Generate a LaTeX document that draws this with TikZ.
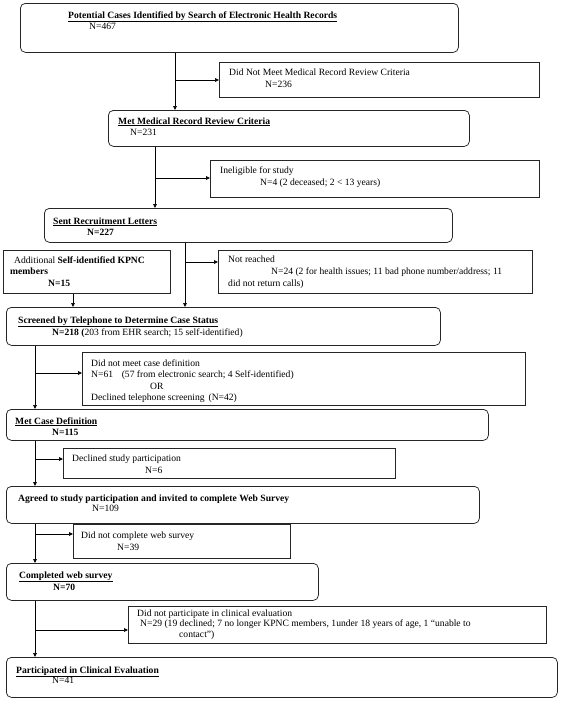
\documentclass[tikz,border=0pt]{standalone}
\usepackage{fontspec}
\setmainfont{Liberation Serif}
\usetikzlibrary{arrows.meta}
\begin{document}
\begin{tikzpicture}[x=1pt,y=-1pt,
  font=\fontsize{9.6}{11.5}\selectfont,
  rbox/.style={draw=black!85, rounded corners=5pt, line width=0.75pt, anchor=north west, inner sep=0pt},
  sbox/.style={draw=black!85, line width=0.75pt, anchor=north west, inner sep=0pt},
  txt/.style={anchor=base west, inner sep=0pt},
  arr/.style={-{Triangle[length=4pt,width=3.6pt]}, line width=0.65pt}]
\useasboundingbox (0,0) rectangle (563,718);
\fill[white] (0,0) rectangle (563,718);

% main boxes
\node[rbox, minimum width=438pt, minimum height=49pt] (b1) at (20,3) {};
\node[rbox, minimum width=361pt, minimum height=36pt] (b2) at (108,110) {};
\node[rbox, minimum width=408pt, minimum height=34pt] (b3) at (44,208) {};
\node[rbox, minimum width=434pt, minimum height=38pt] (b4) at (6,307) {};
\node[rbox, minimum width=482pt, minimum height=31pt] (b5) at (6,409) {};
\node[rbox, minimum width=473pt, minimum height=37pt] (b6) at (6,486) {};
\node[rbox, minimum width=312pt, minimum height=37pt] (b7) at (6,563) {};
\node[rbox, minimum width=551pt, minimum height=40pt] (b8) at (6,657) {};

% side boxes
\node[sbox, minimum width=320pt, minimum height=35pt] (s1) at (219,62) {};
\node[sbox, minimum width=329pt, minimum height=37pt] (s2) at (210,160) {};
\node[sbox, minimum width=314pt, minimum height=43pt] (s3) at (218,250) {};
\node[sbox, minimum width=167pt, minimum height=43pt] (a1) at (3,250) {};
\node[sbox, minimum width=443pt, minimum height=53pt] (s4) at (82,352) {};
\node[sbox, minimum width=332pt, minimum height=30pt] (s5) at (63,448) {};
\node[sbox, minimum width=217pt, minimum height=34pt] (s6) at (73,524) {};
\node[sbox, minimum width=418pt, minimum height=37pt] (s7) at (128,606) {};

% texts
\node[txt] (t1a) at (68,18) {\underline{\textbf{Potential Cases Identified by Search of Electronic Health Records}}};
\node[txt] (t1b) at (89,29) {N=467};
\node[txt] (u1a) at (229,75) {Did Not Meet Medical Record Review Criteria};
\node[txt] (u1b) at (265,87) {N=236};
\node[txt] (t2a) at (118,124) {\underline{\textbf{Met Medical Record Review Criteria}}};
\node[txt] (t2b) at (130,135) {N=231};
\node[txt] (u2a) at (220,173) {Ineligible for study};
\node[txt] (u2b) at (260,185) {N=4 (2 deceased; 2 < 13 years)};
\node[txt] (t3a) at (53,224) {\underline{\textbf{Sent Recruitment Letters}}};
\node[txt] (t3b) at (87,235) {\textbf{N=227}};
\node[txt] (u3a) at (228,262) {Not reached};
\node[txt] (u3b) at (271,274) {N=24 (2 for health issues; 11 bad phone number/address; 11};
\node[txt] (u3c) at (228,286) {did not return calls)};
\node[txt] (a1a) at (14,263) {Additional \textbf{Self-identified KPNC}};
\node[txt] (a1b) at (10,274) {\textbf{members}};
\node[txt] (a1c) at (48,286) {\textbf{N=15}};
\node[txt] (t4a) at (18,323) {\underline{\textbf{Screened by Telephone to Determine Case Status}}};
\node[txt] (t4b) at (52,335) {\textbf{N=218 (}203 from EHR search; 15 self-identified)};
\node[txt] (u4a) at (91,366) {Did not meet case definition};
\node[txt] (u4b) at (91,377) {N=61\hspace{0.9em}(57 from electronic search; 4 Self-identified)};
\node[txt] (u4c) at (150,389) {OR};
\node[txt] (u4d) at (91,400) {Declined telephone screening\hspace{0.4em}(N=42)};
\node[txt] (t5a) at (15,424) {\underline{\textbf{Met Case Definition}}};
\node[txt] (t5b) at (52,435) {\textbf{N=115}};
\node[txt] (u5a) at (72,461) {Declined study participation};
\node[txt] (u5b) at (145,473) {N=6};
\node[txt] (t6a) at (18,501) {\textbf{Agreed to study participation and invited to complete Web Survey}};
\node[txt] (t6b) at (92,511) {N=109};
\node[txt] (u6a) at (81,538) {Did not complete web survey};
\node[txt] (u6b) at (117,550) {N=39};
\node[txt] (t7a) at (19,578) {\underline{\textbf{Completed web survey}}};
\node[txt] (t7b) at (53,590) {\textbf{N=70}};
\node[txt] (u7a) at (137,616) {Did not participate in clinical evaluation};
\node[txt] (u7b) at (140,626) {N=29 (19 declined; 7 no longer KPNC members, 1under 18 years of age, 1 “unable to};
\node[txt] (u7c) at (179,637) {contact”)};
\node[txt] (t8a) at (16,673) {\underline{\textbf{Participated in Clinical Evaluation}}};
\node[txt] (t8b) at (52,683) {N=41};

% connector guide coordinates
\coordinate (x1) at (175,80);
\coordinate (x2) at (155,178);
\coordinate (x3) at (185,262);
\coordinate (xa) at (73,0);
\coordinate (x4) at (35,373);
\coordinate (x5) at (35,459);
\coordinate (x6) at (35,534);
\coordinate (x7) at (35,630);

% vertical connectors
\draw[arr] (x1 |- b1.south) -- (x1 |- b2.north);
\draw[arr] (x2 |- b2.south) -- (x2 |- b3.north);
\draw[arr] (x3 |- b3.south) -- (x3 |- b4.north);
\draw[arr] (xa |- a1.south) -- (xa |- b4.north);
\draw[arr] (x4 |- b4.south) -- (x4 |- b5.north);
\draw[arr] (x5 |- b5.south) -- (x5 |- b6.north);
\draw[arr] (x6 |- b6.south) -- (x6 |- b7.north);
\draw[arr] (x7 |- b7.south) -- (x7 |- b8.north);

% side connectors
\draw[arr] (x1) -- (x1 -| s1.west);
\draw[arr] (x2) -- (x2 -| s2.west);
\draw[arr] (x3) -- (x3 -| s3.west);
\draw[arr] (x4) -- (x4 -| s4.west);
\draw[arr] (x5) -- (x5 -| s5.west);
\draw[arr] (x6) -- (x6 -| s6.west);
\draw[arr] (x7) -- (x7 -| s7.west);
\end{tikzpicture}
\end{document}
